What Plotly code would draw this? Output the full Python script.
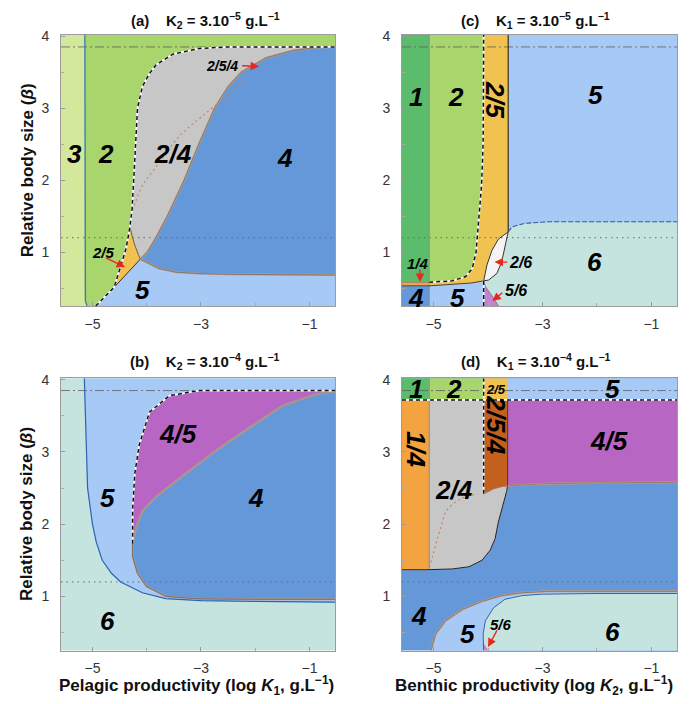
import plotly.graph_objects as go

# ---------------- axes / reference values ----------------
X_RANGE = [-5.58, -0.53]
Y_RANGE = [0.25, 4.02]
X_TICKS = [-5, -3, -1]
Y_TICKS = [1, 2, 3, 4]
BETA_DASHDOT = 3.85
BETA_DOTTED = 1.2

TITLES = {
    "a": "(a)&nbsp;&nbsp;&nbsp;&nbsp;K<sub>2</sub> = 3.10<sup>−5</sup> g.L<sup>−1</sup>",
    "c": "(c)&nbsp;&nbsp;&nbsp;&nbsp;K<sub>1</sub> = 3.10<sup>−5</sup> g.L<sup>−1</sup>",
    "b": "(b)&nbsp;&nbsp;&nbsp;&nbsp;K<sub>2</sub> = 3.10<sup>−4</sup> g.L<sup>−1</sup>",
    "d": "(d)&nbsp;&nbsp;&nbsp;&nbsp;K<sub>1</sub> = 3.10<sup>−4</sup> g.L<sup>−1</sup>",
}
Y_TITLE = "Relative body size (<i>β</i>)"
X_TITLE_LEFT = "Pelagic productivity (log <i>K</i><sub>1</sub>, g.L<sup>−1</sup>)"
X_TITLE_RIGHT = "Benthic productivity (log <i>K</i><sub>2</sub>, g.L<sup>−1</sup>)"

# ---------------- panel (a) boundaries ----------------
A_L32_X = [-5.14, -5.14, -5.13, -5.10]
A_L32_Y = [4.02, 0.45, 0.32, 0.25]
A_DASH_X = [-4.94, -4.60, -4.48, -4.38, -4.31, -4.27, -4.24, -4.21, -4.17, -4.08, -3.95, -3.83, -3.52, -3.03, -2.50, -0.53]
A_DASH_Y = [0.25, 0.51, 0.80, 1.05, 1.35, 1.60, 2.00, 2.50, 3.00, 3.30, 3.48, 3.60, 3.75, 3.83, 3.85, 3.85]
A_DIAG_X = [-4.94, -4.60, -4.12]
A_DIAG_Y = [0.25, 0.51, 0.90]
A_25TOP_X = [-4.12, -4.23, -4.31]
A_25TOP_Y = [0.90, 1.12, 1.35]
A_4UP_X = [-4.12, -3.99, -3.83, -3.62, -3.31, -3.04, -2.75, -2.50, -2.26, -1.80, -1.31, -0.90, -0.53]
A_4UP_Y = [0.90, 1.00, 1.20, 1.50, 2.00, 2.50, 3.00, 3.30, 3.50, 3.70, 3.80, 3.84, 3.85]
A_4LO_X = [-4.12, -3.95, -3.77, -3.46, -3.03, -2.50, -0.53]
A_4LO_Y = [0.90, 0.84, 0.77, 0.72, 0.70, 0.69, 0.68]
A_DOT_X = [-4.26, -4.08, -3.77, -3.40, -2.91, -2.45, -2.15]
A_DOT_Y = [1.58, 1.92, 2.24, 2.61, 2.93, 3.22, 3.48]

# ---------------- panel (b) boundaries ----------------
B_5_X = [-5.15, -5.12, -5.09, -5.00, -4.93, -4.82, -4.65, -4.48, -4.08, -3.65, -3.00, -2.00, -0.53]
B_5_Y = [4.02, 3.20, 2.50, 2.00, 1.75, 1.50, 1.32, 1.20, 1.05, 0.97, 0.94, 0.93, 0.92]
B_45L_X = [-4.26, -4.26, -4.22, -4.14, -3.95, -3.58, -3.03, -0.53]
B_45L_Y = [1.73, 2.20, 2.70, 3.09, 3.55, 3.78, 3.85, 3.85]
B_4UP_X = [-4.26, -4.20, -4.08, -3.83, -3.28, -2.72, -2.10, -1.49, -0.88, -0.53]
B_4UP_Y = [1.73, 1.95, 2.18, 2.38, 2.70, 3.02, 3.34, 3.64, 3.80, 3.84]
B_4LO_X = [-4.26, -4.26, -4.17, -4.01, -3.65, -3.03, -2.00, -0.53]
B_4LO_Y = [1.73, 1.55, 1.32, 1.14, 1.00, 0.965, 0.96, 0.96]

# ---------------- panel (c) boundaries ----------------
C_SPLIT_X = [-5.08, -4.08, -3.63]
C_14_Y = [0.53, 0.58]
C_DASH_X = [-5.08, -4.65, -4.41, -4.29, -4.22, -4.17, -4.12, -4.09, -4.08]
C_DASH_Y = [0.58, 0.60, 0.66, 0.77, 1.00, 1.46, 1.92, 2.50, 4.02]
C_5LO_X = [-5.08, -4.60, -4.30, -4.08]
C_5LO_Y = [0.53, 0.55, 0.57, 0.60]
C_26L_X = [-4.08, -4.02, -3.93, -3.81, -3.63]
C_26L_Y = [0.60, 0.82, 1.02, 1.18, 1.28]
C_26R_X = [-3.63, -3.68, -3.75, -3.84, -3.99, -4.08]
C_26R_Y = [1.28, 1.09, 0.86, 0.70, 0.61, 0.60]
C_5B_X = [-3.63, -3.56, -3.32, -2.90, -0.53]
C_5B_Y = [1.28, 1.35, 1.40, 1.42, 1.42]
C_56_X = [-4.08, -4.05, -3.90, -3.81]
C_56_Y = [0.60, 0.52, 0.36, 0.25]

# ---------------- panel (d) boundaries ----------------
D_SPLIT_X = [-5.08, -4.08, -3.64]
D_TOP_Y = 3.72
D_14_Y = 1.37
D_24_X = [-5.08, -4.65, -4.35, -4.11, -3.96, -3.87, -3.81, -3.71, -3.66, -3.64]
D_24_Y = [1.37, 1.38, 1.41, 1.50, 1.64, 1.80, 2.03, 2.30, 2.45, 2.53]
D_254_X = [-4.08, -3.90, -3.75, -3.64]
D_254_Y = [2.42, 2.49, 2.52, 2.53]
D_45_X = [-3.64, -3.00, -2.00, -0.53]
D_45_Y = [2.53, 2.56, 2.57, 2.58]
D_5_X = [-5.05, -4.96, -4.78, -4.47, -4.11, -3.75, -3.38, -2.90, -2.00, -0.53]
D_5_Y = [0.25, 0.48, 0.66, 0.82, 0.93, 1.01, 1.05, 1.07, 1.07, 1.07]
D_6_X = [-4.08, -4.09, -4.05, -3.90, -3.69, -3.38, -3.02, -2.00, -0.53]
D_6_Y = [0.25, 0.48, 0.66, 0.84, 0.96, 1.01, 1.03, 1.04, 1.04]
D_56_X = [-4.08, -4.08, -4.00]
D_56_Y = [0.25, 0.34, 0.25]
D_DOT_X = [-5.08, -5.02, -4.87, -4.75, -4.50, -4.20]
D_DOT_Y = [1.40, 1.55, 1.95, 2.20, 2.35, 2.42]

# ---------------- region labels ----------------
LABELS_A = [("3", -5.34, 2.36), ("2", -4.75, 2.36), ("2/4", -3.52, 2.36), ("4", -1.46, 2.31), ("5", -4.08, 0.47)]
LABELS_B = [("4/5", -3.43, 3.25), ("5", -4.72, 2.36), ("4", -1.99, 2.36), ("6", -4.72, 0.66)]
LABELS_C = [("1", -5.32, 3.16), ("2", -4.59, 3.16), ("5", -2.02, 3.18), ("6", -2.05, 0.86),
            ("4", -5.32, 0.36), ("5", -4.56, 0.36)]
LABELS_D = [("1", -5.32, 3.87), ("2", -4.62, 3.87), ("5", -1.72, 3.87), ("2/4", -4.62, 2.47),
            ("4/5", -1.78, 3.15), ("4", -5.26, 0.73), ("5", -4.38, 0.48), ("6", -1.71, 0.50)]
ROT_LABELS = [("2", "2/5", -3.88, 3.12), ("4", "1/4", -5.32, 3.04), ("4", "2/5/4", -3.87, 3.38)]
SMALL_LABELS = [("", "2/5", -4.80, 1.00, 15), ("", "2/5/4", -2.62, 3.59, 14),
                ("2", "1/4", -5.28, 0.84, 15), ("2", "2/6", -3.40, 0.86, 16), ("2", "5/6", -3.48, 0.47, 16),
                ("4", "2/5", -3.86, 3.87, 13), ("4", "5/6", -3.76, 0.61, 15)]
ARROWS = [("", -4.78, 0.93, -4.40, 0.79), ("", -2.27, 3.59, -1.93, 3.58),
          ("2", -5.25, 0.78, -5.25, 0.585), ("2", -3.62, 0.86, -3.88, 0.86), ("2", -3.71, 0.45, -3.92, 0.32),
          ("4", -3.82, 0.55, -4.00, 0.30)]

# ---------------- colours ----------------
COL = {"1": "#5bbd6b", "2": "#a8d56c", "3": "#d4e89c", "4": "#6598d8", "5": "#a6c9f5", "6": "#c6e4df",
       "2/4": "#c7c7c7", "2/5": "#f2c250", "4/5": "#b866c3", "1/4": "#f3a33f", "2/5/4": "#c4601d",
       "2/6": "#f4f4f4", "5/6": "#c184d0"}

X0, X1 = X_RANGE
Y0, Y1 = Y_RANGE
traces = []


def rev(a):
    return list(a)[::-1]


def poly(ax, xs, ys, key):
    c = COL[key]
    traces.append(go.Scatter(x=list(xs), y=list(ys), mode="lines", fill="toself", fillcolor=c,
                             line=dict(color=c, width=0.6), hoverinfo="skip", showlegend=False,
                             xaxis="x" + ax, yaxis="y" + ax))


def rect(ax, xa, xb, ya, yb, key):
    poly(ax, [xa, xb, xb, xa, xa], [ya, ya, yb, yb, ya], key)


def line(ax, xs, ys, color, width=1.0, dash="solid", shape="linear"):
    traces.append(go.Scatter(x=list(xs), y=list(ys), mode="lines",
                             line=dict(color=color, width=width, dash=dash, shape=shape), hoverinfo="skip",
                             showlegend=False, xaxis="x" + ax, yaxis="y" + ax))


def bw(ax, xs, ys):
    line(ax, xs, ys, "white", 1.8)
    line(ax, xs, ys, "#111111", 1.5, "4px,3px")


def halo(ax, xs, ys, core="#666666"):
    line(ax, xs, ys, "#c4a184", 1.9)
    line(ax, xs, ys, core, 0.7)


# ===== panel (a) =====
a = ""
rect(a, X0, X1, Y0, Y1, "5")
poly(a, [X0] + A_L32_X + [X0], [Y1] + A_L32_Y + [Y0], "3")
poly(a, A_L32_X[:1] + [X1, X1] + rev(A_DASH_X) + rev(A_L32_X),
     A_L32_Y[:1] + [Y1, BETA_DASHDOT] + rev(A_DASH_Y) + rev(A_L32_Y), "2")
poly(a, A_DASH_X[4:] + rev(A_4UP_X) + A_25TOP_X, A_DASH_Y[4:] + rev(A_4UP_Y) + A_25TOP_Y, "2/4")
poly(a, A_DASH_X[1:5] + rev(A_25TOP_X) + rev(A_DIAG_X[1:]),
     A_DASH_Y[1:5] + rev(A_25TOP_Y) + rev(A_DIAG_Y[1:]), "2/5")
poly(a, A_4UP_X + [X1] + rev(A_4LO_X), A_4UP_Y + [A_4LO_Y[-1]] + rev(A_4LO_Y), "4")

# ===== panel (c) =====
c = "2"
s1, s2, s3 = C_SPLIT_X
rect(c, X0, X1, Y0, Y1, "6")
poly(c, C_5B_X + [X1, s3], C_5B_Y + [Y1, Y1], "5")
rect(c, X0, s1, C_14_Y[1], Y1, "1")
rect(c, X0, s1, C_14_Y[0], C_14_Y[1], "1/4")
rect(c, X0, s1, Y0, C_14_Y[0], "4")
poly(c, C_5LO_X + [s2, s1], C_5LO_Y + [Y0, Y0], "5")
poly(c, C_5LO_X + C_26L_X[1:] + [s3] + rev(C_DASH_X),
     C_5LO_Y + C_26L_Y[1:] + [Y1] + rev(C_DASH_Y), "2/5")
poly(c, C_DASH_X + [s1], C_DASH_Y + [Y1], "2")
poly(c, C_26L_X + C_26R_X[1:], C_26L_Y + C_26R_Y[1:], "2/6")
poly(c, C_56_X + [s2], C_56_Y + [Y0], "5/6")

# ===== panel (b) =====
b = "3"
rect(b, X0, X1, Y0, Y1, "6")
poly(b, B_5_X + [X1], B_5_Y + [Y1], "5")
poly(b, B_45L_X + rev(B_4UP_X), B_45L_Y + rev(B_4UP_Y), "4/5")
poly(b, B_4UP_X + rev(B_4LO_X), B_4UP_Y + rev(B_4LO_Y), "4")

# ===== panel (d) =====
d = "4"
t1, t2, t3 = D_SPLIT_X
rect(d, X0, X1, Y0, Y1, "4")
rect(d, X0, t1, D_TOP_Y, Y1, "1")
rect(d, t1, t2, D_TOP_Y, Y1, "2")
rect(d, t2, t3, D_TOP_Y, Y1, "2/5")
rect(d, t3, X1, D_TOP_Y, Y1, "5")
rect(d, X0, t1, D_14_Y, D_TOP_Y, "1/4")
poly(d, [t1, t2] + D_254_X + rev(D_24_X), [D_TOP_Y, D_TOP_Y] + D_254_Y + rev(D_24_Y), "2/4")
poly(d, [t2, t3] + rev(D_254_X), [D_TOP_Y, D_TOP_Y] + rev(D_254_Y), "2/5/4")
poly(d, [t3, X1] + rev(D_45_X), [D_TOP_Y, D_TOP_Y] + rev(D_45_Y), "4/5")
poly(d, D_5_X + [X1], D_5_Y + [Y0], "5")
poly(d, D_6_X + [X1], D_6_Y + [Y0], "6")
poly(d, D_56_X, D_56_Y, "5/6")

# ===== reference lines (all panels) =====
for ax in ["", "2", "3", "4"]:
    line(ax, [X0, X1], [BETA_DASHDOT, BETA_DASHDOT], "rgba(95,95,95,0.8)", 1.0, "9px,3px,2px,3px")
    line(ax, [X0, X1], [BETA_DOTTED, BETA_DOTTED], "rgba(105,105,105,0.8)", 1.2, "1.5px,4px")

# ===== boundary lines =====
line(a, A_L32_X, A_L32_Y, "#3b78c8", 1.3)
line(a, A_DIAG_X, A_DIAG_Y, "#333333", 1.0)
line(a, A_25TOP_X, A_25TOP_Y, "#555555", 0.9, shape="spline")
halo(a, A_4UP_X, A_4UP_Y)
halo(a, A_4LO_X, A_4LO_Y)
line(a, A_DOT_X, A_DOT_Y, "#c0825a", 1.1, "2px,3px", "spline")
bw(a, A_DASH_X, A_DASH_Y)

line(c, [s1, s1], [Y0, Y1], "#8c8c8c", 1.0)
line(c, [X0, s1], [C_14_Y[0], C_14_Y[0]], "#444444", 0.9)
line(c, [X0, s1], [C_14_Y[1], C_14_Y[1]], "#777777", 0.7)
line(c, C_5LO_X, C_5LO_Y, "#333333", 0.9)
line(c, [s3, s3], [C_5B_Y[0], Y1], "#222222", 1.1)
line(c, C_5B_X, C_5B_Y, "#2f5e9e", 1.1, "5px,2px")
line(c, C_26L_X + C_26R_X[1:], C_26L_Y + C_26R_Y[1:], "#333333", 1.0)
line(c, C_56_X, C_56_Y, "#7a6a90", 0.8)
bw(c, [s2, s2], [Y0, C_5LO_Y[-1]])
bw(c, C_DASH_X, C_DASH_Y)

line(b, B_5_X, B_5_Y, "#2e63b0", 1.2)
halo(b, B_4UP_X, B_4UP_Y, "#888888")
halo(b, B_4LO_X, B_4LO_Y, "#555555")
bw(b, B_45L_X, B_45L_Y)

line(d, [t1, t1], [D_14_Y, Y1], "#8c8c8c", 1.0)
line(d, [X0, t1], [D_14_Y, D_14_Y], "#333333", 1.0)
line(d, D_24_X, D_24_Y, "#222222", 1.0)
line(d, [t3, t3], [D_45_Y[0], D_TOP_Y], "#333333", 0.9)
line(d, D_254_X, D_254_Y, "#9a7a6a", 0.9)
halo(d, D_45_X, D_45_Y, "#8a6a5a")
halo(d, D_5_X, D_5_Y, "#7a6a60")
line(d, D_6_X, D_6_Y, "#2e63b0", 1.0)
line(d, D_DOT_X, D_DOT_Y, "#c0825a", 1.1, "2px,3px", "spline")
bw(d, [t2, t2], [D_254_Y[0], Y1])
bw(d, [X0, X1], [D_TOP_Y, D_TOP_Y])

fig = go.Figure(traces)

W, H = 689, 704
FONT = "Liberation Sans, Arial, sans-serif"
boxes = {"": (61, 335, 28, 302), "2": (402, 677, 28, 302), "3": (61, 335, 375, 650), "4": (402, 677, 375, 650)}
layout = dict(width=W, height=H, margin=dict(l=0, r=0, t=0, b=0), paper_bgcolor="white",
              plot_bgcolor="white", showlegend=False, font=dict(family=FONT, color="#222"))
for ax, (l, r, t, bt) in boxes.items():
    common = dict(showline=True, mirror=True, linecolor="#9c9c9c", linewidth=1, showgrid=False,
                  zeroline=False, ticks="inside", ticklen=4, tickcolor="#9c9c9c",
                  tickfont=dict(size=14, color="#333", family=FONT), fixedrange=True)
    layout["xaxis" + ax] = dict(common, domain=[l / W, r / W], range=X_RANGE, tickvals=X_TICKS,
                                ticktext=["−5", "−3", "−1"], ticklabelstandoff=5,
                                anchor="y" + ax,
                                minor=dict(tickvals=[-4, -2], ticks="inside", ticklen=3, tickcolor="#aaa"))
    layout["yaxis" + ax] = dict(common, domain=[1 - bt / H, 1 - t / H], range=Y_RANGE, tickvals=Y_TICKS,
                                ticklabelstandoff=8, anchor="x" + ax,
                                minor=dict(tickvals=[0.5, 1.5, 2.5, 3.5], ticks="inside", ticklen=3,
                                           tickcolor="#aaa"))
fig.update_layout(**layout)

ann = []


def pann(cx, cy, text, size, angle=0):
    ann.append(dict(xref="paper", yref="paper", x=cx / W, y=1 - cy / H, xanchor="center", yanchor="middle",
                    text=text, textangle=angle, showarrow=False,
                    font=dict(size=size, color="#111", family=FONT)))


for key, cx, cy in [("a", 205, 14), ("c", 535, 14), ("b", 205, 358), ("d", 536, 358)]:
    pann(cx, cy, "<b>" + TITLES[key] + "</b>", 15)
for cy in [165, 512]:
    pann(27, cy, "<b>" + Y_TITLE + "</b>", 17, -90)
pann(197, 685, "<b>" + X_TITLE_LEFT + "</b>", 17)
pann(534, 685, "<b>" + X_TITLE_RIGHT + "</b>", 17)


def dann(ax, x, y, text, size, angle=0):
    ann.append(dict(xref="x" + ax, yref="y" + ax, x=x, y=y, xanchor="center", yanchor="middle",
                    text="<b><i>" + text + "</i></b>", textangle=angle, showarrow=False,
                    font=dict(size=size, color="black", family=FONT)))


for ax, labs in [("", LABELS_A), ("3", LABELS_B), ("2", LABELS_C), ("4", LABELS_D)]:
    for txt, x, y in labs:
        dann(ax, x, y, txt, 26)
for ax, txt, x, y in ROT_LABELS:
    dann(ax, x, y, txt, 26, 90)
for ax, txt, x, y, sz in SMALL_LABELS:
    dann(ax, x, y, txt, sz)
for ax, x0, y0, x1, y1 in ARROWS:
    ann.append(dict(xref="x" + ax, yref="y" + ax, axref="x" + ax, ayref="y" + ax, x=x1, y=y1, ax=x0, ay=y0,
                    text="", showarrow=True, arrowhead=2, arrowsize=1.2, arrowwidth=1.4, arrowcolor="#e8281e"))
fig.update_layout(annotations=ann)

fig.write_html("out.html", config={"displayModeBar": False},
               post_script="document.body.style.margin='0px';")
